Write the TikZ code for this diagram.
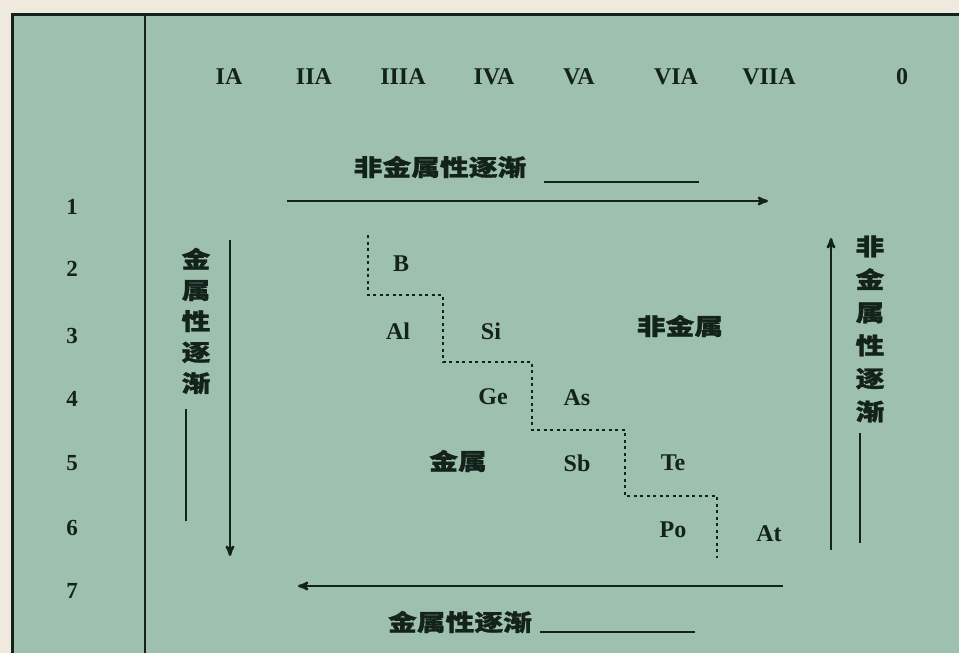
\documentclass[tikz,border=0pt]{standalone}
\usepackage{fontspec}
\setmainfont{Liberation Serif}
\newfontfamily\cjk[FakeStretch=1.25,FakeBold=1.2]{Noto Sans CJK SC}
\usetikzlibrary{positioning}
\usetikzlibrary{arrows}

\definecolor{panel}{RGB}{157,193,174}
\definecolor{paper}{RGB}{240,234,222}
\definecolor{ink}{RGB}{20,34,28}

\tikzset{
  sym/.style={text=ink, inner sep=0pt, font=\fontsize{24}{24}\selectfont\bfseries},
  per/.style={sym, font=\fontsize{23}{23}\selectfont\bfseries},
  hz/.style={text=ink, inner sep=0pt, font=\cjk\fontsize{23}{23}\selectfont\bfseries},
  vz/.style={hz, align=center, font=\cjk\fontsize{23}{31}\selectfont\bfseries},
  vzr/.style={hz, align=center, font=\cjk\fontsize{23}{33}\selectfont\bfseries},
  trend/.style={->, draw=ink, line width=2.4pt},
  rule/.style={draw=ink, line width=2.4pt},
  border/.style={draw=ink, line width=2.4pt, dash pattern=on 3pt off 3.5pt}
}

\begin{document}
\begin{tikzpicture}[>=stealth', x=1pt, y=-1pt]
  \useasboundingbox (0,0) rectangle (959,653);
  \fill[paper] (0,0) rectangle (959,653);
  \fill[panel] (12,14) rectangle (959,653);
  \draw[ink, line width=3pt] (12,653) -- (12,14) -- (959,14);
  \draw[ink, line width=2.8pt] (145,14) -- (145,653);

  % group headings
  \node[sym] (gIA)   at (229,77) {IA};
  \node[sym] (gIIA)  at (314,77) {IIA};
  \node[sym] (gIIIA) at (403,77) {IIIA};
  \node[sym] (gIVA)  at (494,77) {IVA};
  \node[sym] (gVA)   at (579,77) {VA};
  \node[sym] (gVIA)  at (676,77) {VIA};
  \node[sym] (gVIIA) at (769,77) {VIIA};
  \node[sym] (g0)    at (902,77) {0};

  % periods
  \node[per] (p1) at (72,207) {1};
  \node[per] (p2) at (72,269) {2};
  \node[per] (p3) at (72,336) {3};
  \node[per] (p4) at (72,399) {4};
  \node[per] (p5) at (72,463) {5};
  \node[per] (p6) at (72,528) {6};
  \node[per] (p7) at (72,591) {7};

  % elements on the border
  \node[sym] (B)  at (401,264) {B};
  \node[sym] (Al) at (398,331) {Al};
  \node[sym] (Si) at (491,331) {Si};
  \node[sym] (Ge) at (493,397) {Ge};
  \node[sym] (As) at (577,398) {As};
  \node[sym] (Sb) at (577,463) {Sb};
  \node[sym] (Te) at (673,463) {Te};
  \node[sym] (Po) at (673,530) {Po};
  \node[sym] (At) at (769,534) {At};
  \node[hz] (nonmetal) at (680,326) {非金属};
  \node[hz] (metal)    at (458,461) {金属};

  % trend labels
  \node[hz] (topTxt) at (440,167) {非金属性逐渐};
  \node[hz] (botTxt) at (460,622) {金属性逐渐};
  \node[vz]  (leftTxt)  at (196,321) {金\\属\\性\\逐\\渐};
  \node[vzr] (rightTxt) at (870,329) {非\\金\\属\\性\\逐\\渐};

  \coordinate (topL)   at (287,201);
  \coordinate (topR)   at (768,201);
  \coordinate (botR)   at (783,586);
  \coordinate (botL)   at (298,586);
  \coordinate (leftT)  at (230,240);
  \coordinate (leftB)  at (230,556);
  \coordinate (rightB) at (831,550);
  \coordinate (rightT) at (831,238);

  \draw[trend] (topL) -- (topR);
  \draw[trend] (botR) -- (botL);
  \draw[trend] (leftT) -- (leftB);
  \draw[trend] (rightB) -- (rightT);

  \draw[rule] ([xshift=18pt,yshift=-15pt]topTxt.east) -- ++(155,0);
  \draw[rule] ([xshift=8pt,yshift=-10pt]botTxt.east) -- ++(155,0);
  \draw[rule] ([xshift=-10pt,yshift=-15pt]leftTxt.south) -- ++(0,112);
  \draw[rule] ([xshift=-10pt,yshift=-10pt]rightTxt.south) -- ++(0,110);

  % metal / nonmetal border
  \draw[border] (368,235) -- (368,295) -- (443,295) -- (443,362)
     -- (532,362) -- (532,430) -- (625,430) -- (625,496)
     -- (717,496) -- (717,558);
\end{tikzpicture}
\end{document}
